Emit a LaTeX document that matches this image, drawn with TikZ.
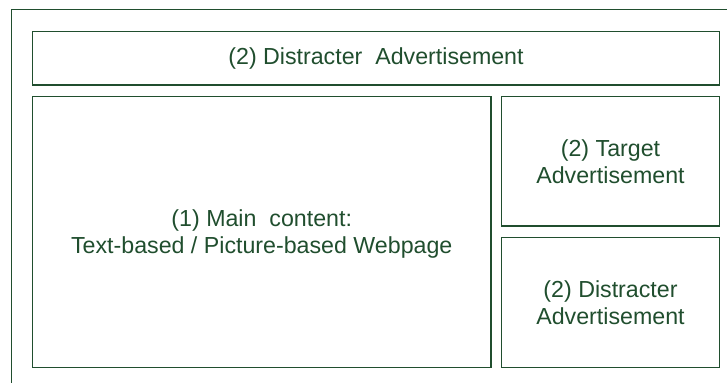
\documentclass[tikz,border=0pt]{standalone}
\usepackage{fontspec}
\setmainfont{Liberation Sans}
\definecolor{dg}{RGB}{32,78,46}
\begin{document}
\begin{tikzpicture}[x=1pt,y=-1pt,
  box/.style={draw=dg,line width=1.3pt},
  lbl/.style={text=dg,font=\fontsize{23.2}{27}\selectfont,align=center,inner sep=0pt}]
\useasboundingbox (0,0) rectangle (727,383);
\coordinate (ft) at (727,9.5);
\coordinate (fc) at (11.5,9.5);
\coordinate (fb) at (11.5,383);
\draw[box] (ft) -- (fc) -- (fb);
\draw[box] (32.5,31.5) rectangle (719.5,85) node[midway,lbl] (ban) {(2) Distracter\ \ Advertisement};
\draw[box] (32.5,96.5) rectangle (491,367.5) node[midway,lbl,yshift=-1.5pt] (main) {(1) Main\ \ content:\\Text-based / Picture-based Webpage};
\draw[box] (501.5,96.5) rectangle (719.5,226) node[midway,lbl] (tgt) {(2) Target\\Advertisement};
\draw[box] (501.5,237.5) rectangle (719.5,367.5) node[midway,lbl] (dis) {(2) Distracter\\Advertisement};
\end{tikzpicture}
\end{document}
